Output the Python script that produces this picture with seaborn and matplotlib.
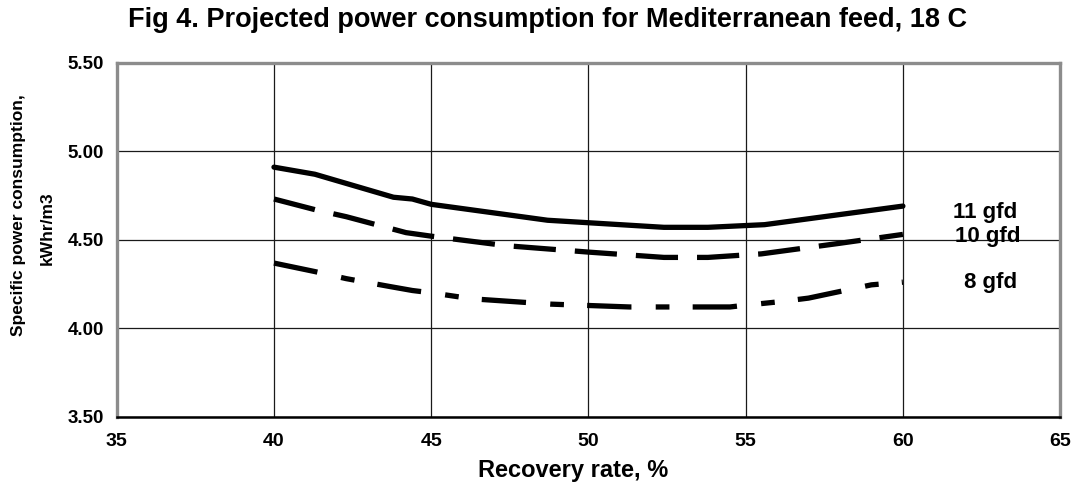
import pandas as pd
import matplotlib.pyplot as plt
import seaborn as sns

# Data
rec_11 = [40, 41.3, 43.8, 44.4, 45, 48.7, 52.4, 53.8, 55.6, 60]
pwr_11 = [4.91, 4.87, 4.74, 4.73, 4.70, 4.61, 4.57, 4.57, 4.585, 4.69]

rec_10 = [40, 41.3, 42.3, 44.2, 45, 47.4, 50, 52.4, 53.8, 55.5, 58, 60]
pwr_10 = [4.73, 4.67, 4.63, 4.54, 4.52, 4.466, 4.43, 4.40, 4.40, 4.42, 4.48, 4.53]

rec_8 = [40, 41.3, 42.3, 43.7, 44.4, 45, 46.3, 48.8, 51.3, 54.5, 55, 56.1, 57, 59, 60]
pwr_8 = [4.368, 4.32, 4.28, 4.235, 4.213, 4.20, 4.166, 4.136, 4.12, 4.12, 4.13, 4.15, 4.17, 4.245, 4.26]

series_names = ["11 gfd", "10 gfd", "8 gfd"]
label_x = [62.6, 62.7, 62.8]
label_y = [4.653, 4.517, 4.257]

x_ticks = [35, 40, 45, 50, 55, 60, 65]
y_ticks = [3.50, 4.00, 4.50, 5.00, 5.50]

df = pd.concat([
    pd.DataFrame({"rec": rec_11, "pwr": pwr_11, "series": "11 gfd"}),
    pd.DataFrame({"rec": rec_10, "pwr": pwr_10, "series": "10 gfd"}),
    pd.DataFrame({"rec": rec_8, "pwr": pwr_8, "series": "8 gfd"}),
])

sns.set_style("white")
plt.rcParams['font.family'] = ['Liberation Sans', 'DejaVu Sans']
plt.rcParams['font.weight'] = 'bold'
plt.rcParams['text.color'] = 'black'
plt.rcParams['xtick.color'] = 'black'
plt.rcParams['ytick.color'] = 'black'

fig = plt.figure(figsize=(10.73, 4.98), dpi=100)
ax = fig.add_axes([0.1088, 0.1633, 0.8792, 0.7107])

sns.lineplot(data=df, x="rec", y="pwr", style="series", color="black",
             dashes={"11 gfd": "", "10 gfd": (8, 3.6), "8 gfd": (8.4, 4.6, 2.6, 4.4)},
             linewidth=3.8, estimator=None, sort=False, legend=False, ax=ax)

for name, lx, ly in zip(series_names, label_x, label_y):
    ax.text(lx, ly, name, ha="center", va="center", fontsize=16, fontweight="bold")

ax.set_xlim(35, 65)
ax.set_ylim(3.5, 5.5)
ax.set_xticks(x_ticks)
ax.set_yticks(y_ticks)
ax.set_xticklabels([str(t) for t in x_ticks], fontsize=14, fontweight="bold")
ax.set_yticklabels([f"{t:.2f}" for t in y_ticks], fontsize=13.5, fontweight="bold")
ax.tick_params(axis="both", direction="out", length=5, width=1, color="black", pad=4)
ax.tick_params(axis="x", pad=7)
ax.grid(True, color="#1a1a1a", linewidth=0.9)
ax.set_axisbelow(True)
for side in ["left", "top", "right"]:
    ax.spines[side].set_color("#8c8c8c")
    ax.spines[side].set_linewidth(2.4)
ax.spines["bottom"].set_color("black")
ax.spines["bottom"].set_linewidth(1.8)
ax.set_xlabel("")
ax.set_ylabel("")

fig.text(0.51, 1 - 20 / 498, "Fig 4. Projected power consumption for Mediterranean feed, 18 C",
         ha="center", va="center", fontsize=19.5, fontweight="bold")
fig.text(573 / 1073, 1 - 470 / 498, "Recovery rate, %", ha="center", va="center",
         fontsize=17, fontweight="bold")
fig.text(19 / 1073, 1 - 215 / 498, "Specific power consumption,", rotation=90,
         ha="center", va="center", fontsize=12.5, fontweight="bold")
fig.text(47 / 1073, 1 - 228 / 498, "kWhr/m3", rotation=90,
         ha="center", va="center", fontsize=12.5, fontweight="bold")

plt.savefig("out.png", dpi=100)
